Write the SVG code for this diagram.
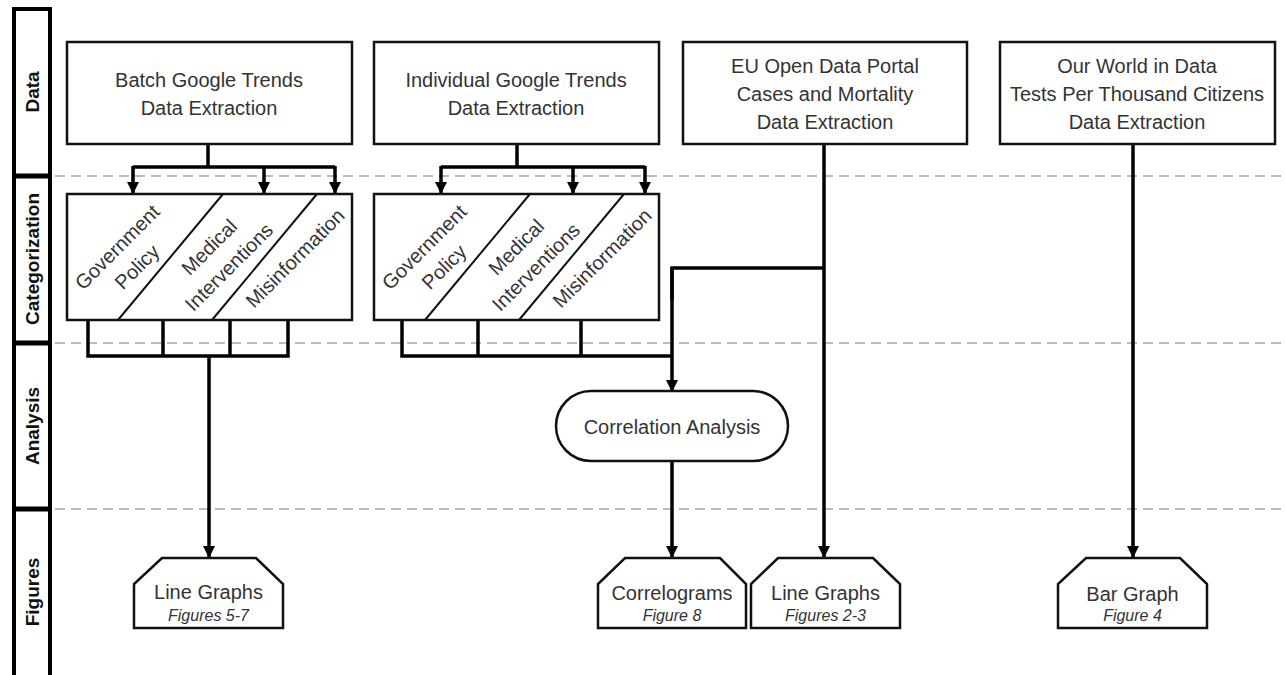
<svg xmlns="http://www.w3.org/2000/svg" width="1285" height="675" viewBox="0 0 1285 675">
<defs>
<style>
.t{font-family:"Liberation Sans",Arial,sans-serif;font-size:20px;fill:#333;text-anchor:middle}
.c{font-family:"Liberation Sans",Arial,sans-serif;font-size:20px;fill:#333;text-anchor:middle}
.s{font-family:"Liberation Sans",Arial,sans-serif;font-size:16px;font-style:italic;fill:#333;text-anchor:middle}
.lane{font-family:"Liberation Sans",Arial,sans-serif;font-size:19px;font-weight:bold;fill:#111;text-anchor:middle}
.box{fill:#fff;stroke:#111;stroke-width:2.5}
.dash{stroke:#bbb;stroke-width:2;stroke-dasharray:10 6;fill:none}
.con{fill:none;stroke:#000;stroke-width:3.5}
.arr{fill:none;stroke:#000;stroke-width:3.5;marker-end:url(#ah)}
.div{stroke:#111;stroke-width:2}
</style>
<marker id="ah" markerUnits="userSpaceOnUse" markerWidth="14" markerHeight="14" viewBox="0 0 14 14" refX="13" refY="7" orient="auto">
<path d="M1,1 L13,7 L1,13 Z" fill="#000"/>
</marker>
</defs>
<rect width="1285" height="675" fill="#fff"/>

<g id="lanes">
<line class="dash" x1="55" y1="176" x2="1285" y2="176"/>
<line class="dash" x1="55" y1="343" x2="1285" y2="343"/>
<line class="dash" x1="55" y1="509" x2="1285" y2="509"/>
<rect x="14" y="9" width="36" height="680" fill="#fff" stroke="#000" stroke-width="4"/>
<line x1="12" y1="176" x2="52" y2="176" stroke="#000" stroke-width="5"/>
<line x1="12" y1="343" x2="52" y2="343" stroke="#000" stroke-width="5"/>
<line x1="12" y1="509" x2="52" y2="509" stroke="#000" stroke-width="5"/>
<text class="lane" transform="translate(39,92) rotate(-90)">Data</text>
<text class="lane" transform="translate(39,259) rotate(-90)">Categorization</text>
<text class="lane" transform="translate(39,426) rotate(-90)">Analysis</text>
<text class="lane" transform="translate(39,592) rotate(-90)">Figures</text>
</g>

<g id="connectors">
<polyline class="con" points="208,144 208,167"/>
<polyline class="con" points="133,167 335,167"/>
<line class="arr" x1="133" y1="166" x2="133" y2="194"/>
<line class="arr" x1="264" y1="166" x2="264" y2="194"/>
<line class="arr" x1="335" y1="166" x2="335" y2="194"/>
<polyline class="con" points="517,144 517,167"/>
<polyline class="con" points="441,167 645,167"/>
<line class="arr" x1="441" y1="166" x2="441" y2="194"/>
<line class="arr" x1="573" y1="166" x2="573" y2="194"/>
<line class="arr" x1="645" y1="166" x2="645" y2="194"/>
<polyline class="con" points="88,320 88,356 288,356 288,320"/>
<line class="con" x1="163" y1="320" x2="163" y2="356"/>
<line class="con" x1="230" y1="320" x2="230" y2="356"/>
<line class="arr" x1="209" y1="356" x2="209" y2="558"/>
<polyline class="con" points="402,320 402,356 672,356"/>
<line class="con" x1="478" y1="320" x2="478" y2="356"/>
<line class="con" x1="581" y1="320" x2="581" y2="356"/>
<line class="arr" x1="824" y1="144" x2="824" y2="558"/>
<polyline class="con" points="824,268 672,268 672,300"/>
<line class="arr" x1="672" y1="268" x2="672" y2="392"/>
<line class="arr" x1="672" y1="461" x2="672" y2="558"/>
<line class="arr" x1="1133" y1="144" x2="1133" y2="558"/>
</g>

<g id="batch">
<rect class="box" x="67" y="42" width="285" height="102"/>
<text class="t" x="209" y="87">Batch Google Trends</text>
<text class="t" x="209" y="115">Data Extraction</text>
</g>
<g id="individual">
<rect class="box" x="374" y="42" width="285" height="102"/>
<text class="t" x="516" y="87">Individual Google Trends</text>
<text class="t" x="516" y="115">Data Extraction</text>
</g>
<g id="eu">
<rect class="box" x="683" y="42" width="284" height="102"/>
<text class="t" x="825" y="73">EU Open Data Portal</text>
<text class="t" x="825" y="101">Cases and Mortality</text>
<text class="t" x="825" y="129">Data Extraction</text>
</g>
<g id="owid">
<rect class="box" x="1000" y="42" width="275" height="102"/>
<text class="t" x="1137" y="73">Our World in Data</text>
<text class="t" x="1137" y="101">Tests Per Thousand Citizens</text>
<text class="t" x="1137" y="129">Data Extraction</text>
</g>

<g id="cat1">
<rect class="box" x="67" y="194" width="285" height="126"/>
<line class="div" x1="118" y1="320" x2="223" y2="194"/>
<line class="div" x1="212" y1="320" x2="317" y2="194"/>
<g transform="translate(127,257) rotate(-45)">
<text class="c" x="0" y="-7">Government</text>
<text class="c" x="0" y="21">Policy</text>
</g>
<g transform="translate(219,257) rotate(-45)">
<text class="c" x="0" y="-7">Medical</text>
<text class="c" x="0" y="21">Interventions</text>
</g>
<g transform="translate(295,258) rotate(-45)">
<text class="c" x="0" y="7">Misinformation</text>
</g>
</g>
<g id="cat2">
<rect class="box" x="374" y="194" width="285" height="126"/>
<line class="div" x1="425" y1="320" x2="530" y2="194"/>
<line class="div" x1="519" y1="320" x2="624" y2="194"/>
<g transform="translate(434,257) rotate(-45)">
<text class="c" x="0" y="-7">Government</text>
<text class="c" x="0" y="21">Policy</text>
</g>
<g transform="translate(526,257) rotate(-45)">
<text class="c" x="0" y="-7">Medical</text>
<text class="c" x="0" y="21">Interventions</text>
</g>
<g transform="translate(602,258) rotate(-45)">
<text class="c" x="0" y="7">Misinformation</text>
</g>
</g>

<g id="correlation">
<rect class="box" x="556" y="391" width="232" height="70" rx="35" ry="35"/>
<text class="t" x="672" y="434">Correlation Analysis</text>
</g>

<g id="fig57">
<path class="box" d="M162,558 L256,558 L283,584 L283,628 L134,628 L134,584 Z"/>
<text class="t" x="208.5" y="599">Line Graphs</text>
<text class="s" x="208.5" y="621">Figures 5-7</text>
</g>
<g id="fig8">
<path class="box" d="M625,558 L720,558 L746,584 L746,628 L598,628 L598,584 Z"/>
<text class="t" x="672" y="600">Correlograms</text>
<text class="s" x="672" y="621">Figure 8</text>
</g>
<g id="fig23">
<path class="box" d="M778,558 L873,558 L900,584 L900,628 L751,628 L751,584 Z"/>
<text class="t" x="825.5" y="600">Line Graphs</text>
<text class="s" x="825.5" y="621">Figures 2-3</text>
</g>
<g id="fig4">
<path class="box" d="M1086,558 L1180,558 L1207,584 L1207,628 L1058,628 L1058,584 Z"/>
<text class="t" x="1132.5" y="601">Bar Graph</text>
<text class="s" x="1132.5" y="621">Figure 4</text>
</g>
</svg>
